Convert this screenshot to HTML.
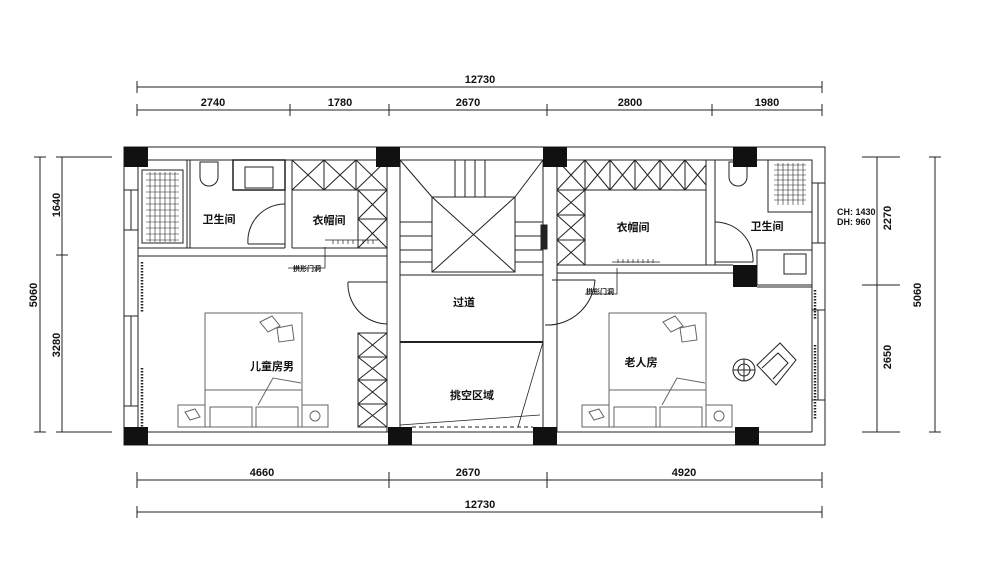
<!DOCTYPE html>
<html><head><meta charset="utf-8"><style>
html,body{margin:0;padding:0;background:#fff}
svg{display:block}
text{font-family:"Liberation Sans","Noto Sans CJK SC",sans-serif;fill:#111}
</style></head><body>
<svg width="1000" height="585" viewBox="0 0 1000 585" xmlns="http://www.w3.org/2000/svg">
<g stroke="#222" stroke-width="1" fill="none">
<line x1="137" y1="87" x2="822" y2="87"/>
<line x1="137" y1="81" x2="137" y2="93"/><line x1="822" y1="81" x2="822" y2="93"/>
<line x1="137" y1="110" x2="822" y2="110"/>
<g><line x1="137" y1="104" x2="137" y2="116"/><line x1="290" y1="104" x2="290" y2="116"/><line x1="389" y1="104" x2="389" y2="116"/><line x1="547" y1="104" x2="547" y2="116"/><line x1="712" y1="104" x2="712" y2="116"/><line x1="822" y1="104" x2="822" y2="116"/></g>
<line x1="137" y1="480" x2="822" y2="480"/>
<line x1="137" y1="472" x2="137" y2="488"/><line x1="389" y1="472" x2="389" y2="488"/><line x1="547" y1="472" x2="547" y2="488"/><line x1="822" y1="472" x2="822" y2="488"/>
<line x1="137" y1="512" x2="822" y2="512"/>
<line x1="137" y1="506" x2="137" y2="518"/><line x1="822" y1="506" x2="822" y2="518"/>
<line x1="40" y1="157" x2="40" y2="432"/>
<line x1="34" y1="157" x2="46" y2="157"/><line x1="34" y1="432" x2="46" y2="432"/>
<line x1="62" y1="157" x2="62" y2="432"/>
<line x1="56" y1="157" x2="112" y2="157"/><line x1="56" y1="255" x2="68" y2="255"/><line x1="56" y1="432" x2="112" y2="432"/>
<line x1="935" y1="157" x2="935" y2="432"/>
<line x1="929" y1="157" x2="941" y2="157"/><line x1="929" y1="432" x2="941" y2="432"/>
<line x1="877" y1="157" x2="877" y2="432"/>
<line x1="862" y1="157" x2="900" y2="157"/><line x1="862" y1="285" x2="900" y2="285"/><line x1="862" y1="432" x2="900" y2="432"/>

<rect x="124" y="147" width="701" height="298"/>
<line x1="138" y1="160" x2="812" y2="160"/>
<line x1="138" y1="160" x2="138" y2="432"/>
<line x1="812" y1="160" x2="812" y2="432"/>
<line x1="138" y1="432" x2="812" y2="432"/>
<rect x="124" y="190" width="14" height="40"/><line x1="131" y1="190" x2="131" y2="230"/>
<rect x="124" y="316" width="14" height="90"/><line x1="131" y1="316" x2="131" y2="406"/>
<rect x="812" y="183" width="13" height="60"/><line x1="818" y1="183" x2="818" y2="243"/>
<rect x="812" y="310" width="13" height="90"/><line x1="818" y1="310" x2="818" y2="400"/>
<line x1="138" y1="248" x2="285" y2="248"/><line x1="138" y1="256" x2="387" y2="256"/>
<line x1="187" y1="160" x2="187" y2="248"/><line x1="190" y1="160" x2="190" y2="248"/>
<rect x="142" y="170" width="41" height="73"/>
<path d="M146 174h33M146 180h33M146 186h33M146 192h33M146 198h33M146 204h33M146 210h33M146 216h33M146 222h33M146 228h33M146 234h33M146 240h33M150 172v70M155 172v70M160 172v70M165 172v70M170 172v70M175 172v70" stroke-width="0.6"/>
<rect x="233" y="160" width="52" height="30" stroke-width="1.5"/>
<rect x="245" y="167" width="28" height="21"/>
<path d="M200 162h18v15a9 9 0 0 1 -18 0z"/>
<line x1="285" y1="160" x2="285" y2="248"/><line x1="292" y1="160" x2="292" y2="248"/>
<path d="M285 204a37 37 0 0 0 -37 40"/><line x1="248" y1="244" x2="285" y2="244"/>
<line x1="292" y1="248" x2="387" y2="248"/>
<rect x="292" y="160" width="95" height="30"/>
<path d="M292 160l32 30M324 160l-32 30M324 160l32 30M356 160l-32 30M356 160l31 30M387 160l-31 30M324 160v30M356 160v30"/>
<rect x="358" y="190" width="29" height="58"/>
<path d="M358 190l29 29M387 190l-29 29M358 219l29 29M387 219l-29 29M358 219h29"/>
<path d="M333 240v4M338 240v4M343 240v4M348 240v4M353 240v4M358 240v4M363 240v4M368 240v4M373 240v4" stroke-width="0.7"/>
<line x1="325" y1="240" x2="378" y2="240" stroke-width="0.7"/>
<polyline points="325,247 325,268 288,268" stroke-width="0.8"/>
<line x1="387" y1="160" x2="387" y2="432"/><line x1="400" y1="160" x2="400" y2="432"/>
<line x1="543" y1="160" x2="543" y2="432"/><line x1="557" y1="160" x2="557" y2="432"/>
<path d="M400 160l32 37M543 160l-28 37"/>
<path d="M455 160v37M465 160v37M475 160v37M485 160v37"/>
<path d="M400 222h32M400 236h32M400 250h32M400 262h32M515 222h28M515 236h28M515 250h28M515 262h28"/>
<rect x="432" y="197" width="83" height="75"/>
<path d="M432 197l83 75M515 197l-83 75"/>
<line x1="400" y1="275" x2="543" y2="275"/>
<rect x="541" y="225" width="6" height="24" fill="#222"/>
<line x1="400" y1="342" x2="543" y2="342" stroke-width="2"/>
<path d="M543 342l-25 85M400 425l140 -10" stroke-width="0.8"/>
<line x1="412" y1="427" x2="533" y2="427" stroke-dasharray="4 3"/>
<path d="M348 282h39M348 282a40 40 0 0 0 39 42"/>
<rect x="358" y="333" width="29" height="94"/>
<path d="M358 333l29 24M387 333l-29 24M358 357h29M358 357l29 23M387 357l-29 23M358 380h29M358 380l29 24M387 380l-29 24M358 404h29M358 404l29 23M387 404l-29 23"/>
<g stroke="#666"><rect x="205" y="313" width="97" height="114"/>
<line x1="205" y1="390" x2="302" y2="390"/>
<rect x="178" y="405" width="27" height="22"/><rect x="302" y="405" width="26" height="22"/>
<rect x="210" y="407" width="42" height="20"/><rect x="256" y="407" width="42" height="20"/>
<path d="M258 405l15 -27l28 5"/>
<path d="M260 322l12 -6l8 10l-12 6zM277 328l15 -3l2 15l-15 2z"/>
<circle cx="315" cy="416" r="5"/><path d="M185 412l10 -3l5 8l-10 3z"/></g>
<path d="M142 262v50M142 368v60" stroke-width="2.5" stroke-dasharray="1.5 1.5"/>
<rect x="557" y="160" width="149" height="30"/>
<path d="M585 160l25 30M610 160l-25 30M610 160l25 30M635 160l-25 30M635 160l25 30M660 160l-25 30M660 160l25 30M685 160l-25 30M685 160l21 25M706 165l-21 25M585 160v30M610 160v30M635 160v30M660 160v30M685 160v30"/>
<rect x="557" y="160" width="28" height="105"/>
<path d="M557 190l28 25M585 190l-28 25M557 215h28M557 215l28 25M585 215l-28 25M557 240h28M557 240l28 25M585 240l-28 25M557 160l28 30M585 160l-28 30"/>
<line x1="557" y1="265" x2="733" y2="265"/><line x1="557" y1="273" x2="733" y2="273"/>
<line x1="706" y1="160" x2="706" y2="265"/><line x1="715" y1="160" x2="715" y2="265"/>
<line x1="612" y1="262" x2="660" y2="262" stroke-width="0.7"/>
<path d="M618 259v4M623 259v4M628 259v4M633 259v4M638 259v4M643 259v4M648 259v4M653 259v4" stroke-width="0.7"/>
<polyline points="617,268 617,294 585,294" stroke-width="0.8"/>
<path d="M552 280h43M595 280a48 48 0 0 1 -50 45"/>
<rect x="768" y="160" width="44" height="52"/>
<path d="M774 165h32M774 170h32M774 175h32M774 180h32M774 185h32M774 190h32M774 195h32M774 200h32M778 163v42M783 163v42M788 163v42M793 163v42M798 163v42M803 163v42" stroke-width="0.6"/>
<path d="M729 162h18v15a9 9 0 0 1 -18 0z"/>
<path d="M715 222a38 38 0 0 1 38 40"/><line x1="715" y1="262" x2="753" y2="262"/>
<rect x="757" y="250" width="55" height="35"/>
<rect x="784" y="254" width="22" height="20"/>
<line x1="757" y1="287" x2="812" y2="287"/>
<path d="M815 290v30M815 345v75" stroke-width="2.5" stroke-dasharray="1.5 1.5"/>
<g stroke="#666"><rect x="609" y="313" width="97" height="114"/>
<line x1="609" y1="390" x2="706" y2="390"/>
<rect x="582" y="405" width="27" height="22"/><rect x="706" y="405" width="26" height="22"/>
<rect x="614" y="407" width="42" height="20"/><rect x="660" y="407" width="42" height="20"/>
<path d="M662 405l15 -27l28 5"/>
<path d="M663 322l12 -6l8 10l-12 6zM680 328l15 -3l2 15l-15 2z"/>
<circle cx="719" cy="416" r="5"/><path d="M589 412l10 -3l5 8l-10 3z"/></g>
<circle cx="744" cy="370" r="11"/><circle cx="744" cy="370" r="6"/><path d="M733 370h22M744 359v22"/>
<path d="M757 365l23 -22l16 17l-20 25zM762 368l16 -15l10 10l-15 16"/>
</g>
<g fill="#111">
<rect x="124" y="147" width="24" height="20"/><rect x="376" y="147" width="24" height="20"/>
<rect x="543" y="147" width="24" height="20"/><rect x="733" y="147" width="24" height="20"/>
<rect x="124" y="427" width="24" height="18"/><rect x="388" y="427" width="24" height="18"/>
<rect x="533" y="427" width="24" height="18"/><rect x="735" y="427" width="24" height="18"/>
<rect x="733" y="265" width="24" height="22"/>
</g>
<g font-size="11" font-weight="bold" text-anchor="middle">
<text x="480" y="83">12730</text>
<text x="213" y="106">2740</text><text x="340" y="106">1780</text><text x="468" y="106">2670</text><text x="630" y="106">2800</text><text x="767" y="106">1980</text>
<text x="262" y="476">4660</text><text x="468" y="476">2670</text><text x="684" y="476">4920</text>
<text x="480" y="508">12730</text>
<text transform="translate(37,295) rotate(-90)">5060</text>
<text transform="translate(60,205) rotate(-90)">1640</text>
<text transform="translate(60,345) rotate(-90)">3280</text>
<text transform="translate(891,218) rotate(-90)">2270</text>
<text transform="translate(891,357) rotate(-90)">2650</text>
<text transform="translate(921,295) rotate(-90)">5060</text>
</g>
<g font-size="11" font-weight="bold" text-anchor="middle">
<text x="219" y="223">卫生间</text><text x="329" y="224">衣帽间</text>
<text x="464" y="306">过道</text><text x="272" y="370">儿童房男</text>
<text x="472" y="399">挑空区域</text>
<text x="633" y="231">衣帽间</text><text x="767" y="230">卫生间</text>
<text x="641" y="366">老人房</text>
</g>
<g font-size="7" font-weight="bold">
<text x="293" y="271">拱形门洞</text><text x="586" y="294">拱形门洞</text>
<text x="837" y="215" font-family="Liberation Serif,serif" font-size="9">CH: 1430</text>
<text x="837" y="225" font-family="Liberation Serif,serif" font-size="9">DH: 960</text>
</g>
</svg>
</body></html>
